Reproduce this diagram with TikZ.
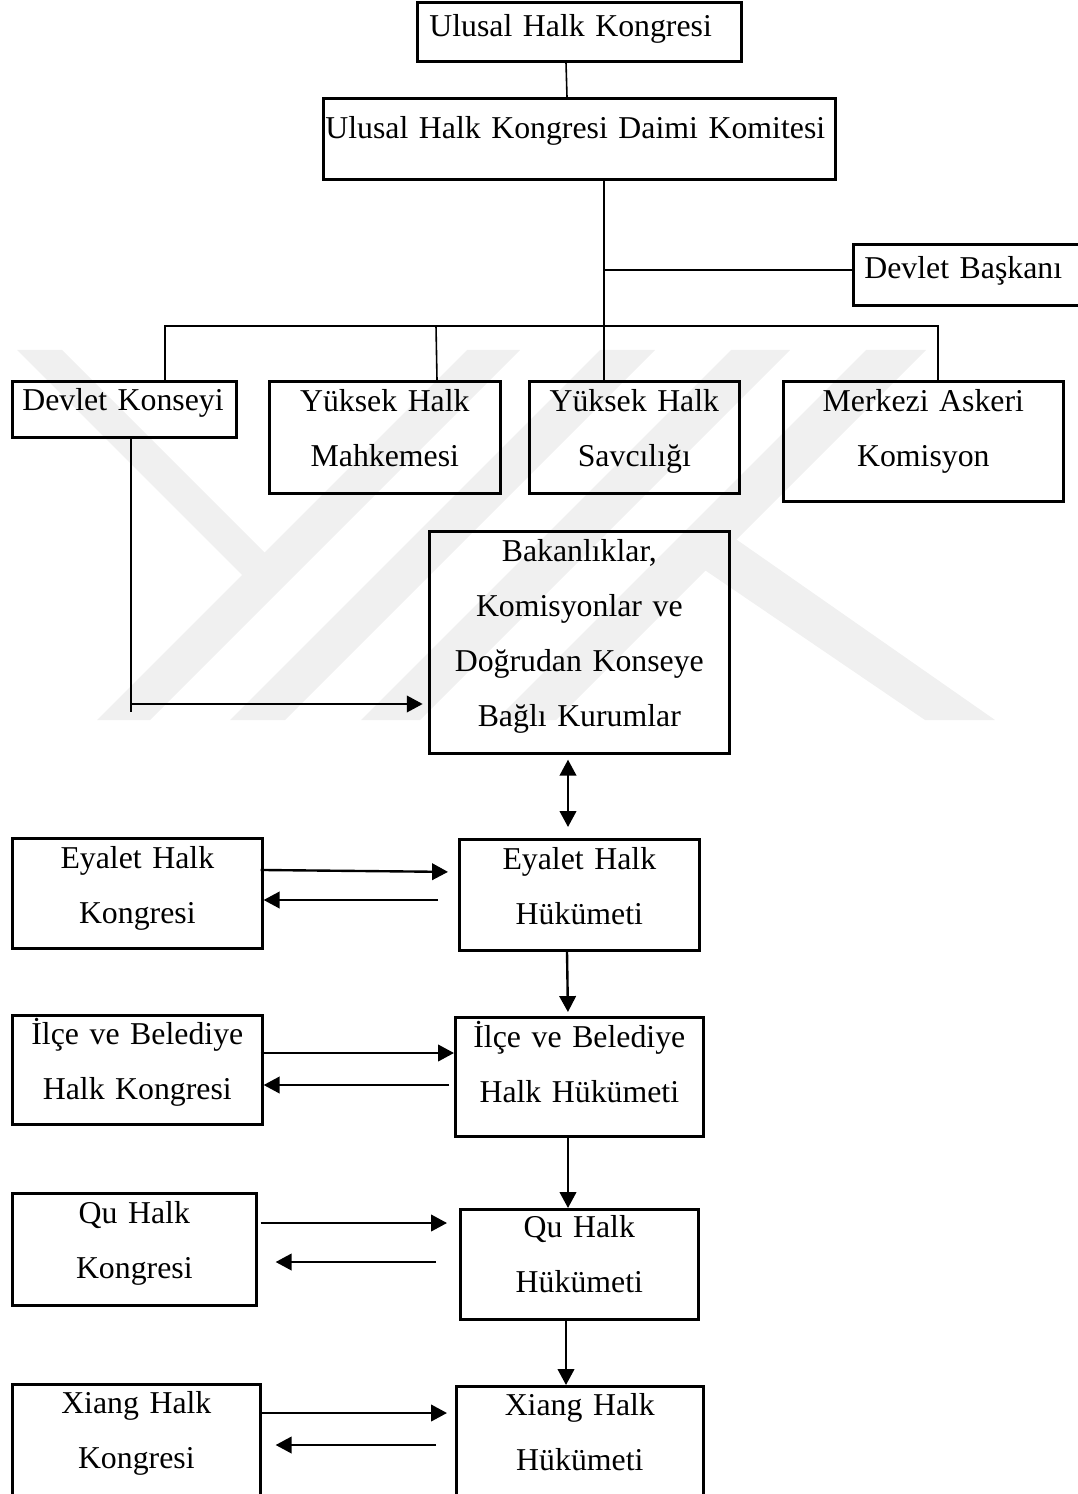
\documentclass[tikz,border=0pt]{standalone}
\usepackage{fontspec}
\setmainfont{Liberation Serif}
\usetikzlibrary{arrows.meta}
\newlength\px
\setlength\px{0.3774pt}

\begin{document}
\begin{tikzpicture}[x=0.3774pt,y=-0.3774pt]

\tikzset{%
every node/.style={font=\fontsize{12}{20.75}\selectfont},%
every path/.style={line width=.6pt}%
}

\tikzstyle{kutu}=[draw, line width=1pt, anchor=north west, inner ysep=0pt, inner xsep=4\px, align=center]
\tikzstyle{ok}=[-{Triangle[length=6pt,width=6.2pt]}, line width=.9pt]
\tikzstyle{ciftok}=[{Triangle[length=6pt,width=6.2pt]}-{Triangle[length=6pt,width=6.2pt]}, line width=.9pt]
\tikzstyle{iz}=[fill=black!6, draw=none]

\useasboundingbox (0,0) rectangle (1077,1494);

\fill[iz] (17,350) -- (62,350) -- (290,578) -- (245,578) -- cycle;
\fill[iz] (467,350) -- (520,350) -- (150,720) -- (97,720) -- cycle;
\fill[iz] (600,350) -- (655,350) -- (285,720) -- (230,720) -- cycle;
\fill[iz] (731,350) -- (790,350) -- (420,720) -- (361,720) -- cycle;
\fill[iz] (866,350) -- (926,350) -- (556,720) -- (496,720) -- cycle;
\fill[iz] (730,535) -- (995,720) -- (925,720) -- (690,560) -- cycle;

\node[kutu, align=left, inner xsep=12\px, text width=300\px, text height=34\px, text depth=25\px] (uhk) at (416,1) {Ulusal Halk Kongresi};
\node[kutu, align=left, inner xsep=2\px, text width=508\px, text height=40\px, text depth=41\px] (uhkdk) at (322,97) {Ulusal Halk Kongresi Daimi Komitesi};
\node[kutu, align=left, inner xsep=11\px, text width=211\px, text height=34\px, text depth=27\px] (db) at (852,243) {Devlet Başkanı};

\node[kutu, align=left, inner xsep=10\px, text width=204\px, text height=29\px, text depth=27\px] (dkon) at (11,380) {Devlet Konseyi};
\node[kutu, text width=223\px, text height=30\px, text depth=82\px] (yhm) at (268,380) {Yüksek Halk\\Mahkemesi};
\node[kutu, text width=202\px, text height=30\px, text depth=82\px] (yhs) at (528,380) {Yüksek Halk\\Savcılığı};
\node[kutu, text width=272\px, text height=30\px, text depth=90\px] (mak) at (782,380) {Merkezi Askeri\\Komisyon};

\node[kutu, text width=292\px, text height=30\px, text depth=192\px] (bak) at (428,530) {Bakanlıklar,\\Komisyonlar ve\\Doğrudan Konseye\\Bağlı Kurumlar};

\node[kutu, text width=242\px, text height=30\px, text depth=80\px] (ehk) at (11,837) {Eyalet Halk\\Kongresi};
\node[kutu, text width=232\px, text height=30\px, text depth=81\px] (ehh) at (458,838) {Eyalet Halk\\Hükümeti};

\node[kutu, text width=242\px, text height=29\px, text depth=80\px] (ibhk) at (11,1014) {İlçe ve Belediye\\Halk Kongresi};
\node[kutu, text width=240\px, text height=30\px, text depth=89\px] (ibhh) at (454,1016) {İlçe ve Belediye\\Halk Hükümeti};

\node[kutu, text width=236\px, text height=30\px, text depth=82\px] (qhk) at (11,1192) {Qu Halk\\Kongresi};
\node[kutu, text width=230\px, text height=28\px, text depth=82\px] (qhh) at (459,1208) {Qu Halk\\Hükümeti};

\node[kutu, text width=240\px, text height=29\px, text depth=93\px] (xhk) at (11,1383) {Xiang Halk\\Kongresi};
\node[kutu, text width=239\px, text height=29\px, text depth=91\px] (xhh) at (455,1385) {Xiang Halk\\Hükümeti};

\coordinate (kol) at (604,270);
\coordinate (bus) at (604,326);
\coordinate (dkb) at (131,704);

\draw (uhk.south -| 566,0) -- (uhkdk.north -| 567,0);
\draw (uhkdk.south -| kol) -- (yhs.north -| kol);
\draw (kol) -- (kol -| db.west);
\draw (dkon.north -| 165,0) |- (bus) -| (mak.north -| 938,0);
\draw (yhm.north -| 437,0) -- (bus -| 436,0);

\draw (dkon.south -| dkb) -- ([yshift=-3pt]dkb);
\draw[ok, shorten >=2pt] (dkb) -- (bak.west |- dkb);
\draw[ciftok, shorten <=5\px, shorten >=11\px] (bak.south -| 568,0) -- (ehh.north -| 568,0);

\draw[ok, shorten <=-3\px, shorten >=10\px] (ehk.east |- 0,870) -- (ehh.west |- 0,872);
\draw[ok, shorten <=20\px] (ehh.west |- 0,900) -- (ehk.east |- 0,900);
\draw[ok, shorten >=4\px] (ehh.south -| 567,0) -- (ibhh.north -| 568,0);

\draw[ok, shorten <=-3\px] (ibhk.east |- 0,1053) -- (ibhh.west |- 0,1053);
\draw[ok, shorten <=5\px] (ibhh.west |- 0,1085) -- (ibhk.east |- 0,1085);
\draw[ok] (ibhh.south -| 568,0) -- (qhh.north -| 568,0);

\draw[ok, shorten <=3\px, shorten >=12\px] (qhk.east |- 0,1223) -- (qhh.west |- 0,1223);
\draw[ok, shorten <=23\px, shorten >=18\px] (qhh.west |- 0,1262) -- (qhk.east |- 0,1262);
\draw[ok] (qhh.south -| 566,0) -- (xhh.north -| 566,0);

\draw[ok, shorten <=-1\px, shorten >=8\px] (xhk.east |- 0,1413) -- (xhh.west |- 0,1413);
\draw[ok, shorten <=19\px, shorten >=14\px] (xhh.west |- 0,1445) -- (xhk.east |- 0,1445);

\end{tikzpicture}
\end{document}
